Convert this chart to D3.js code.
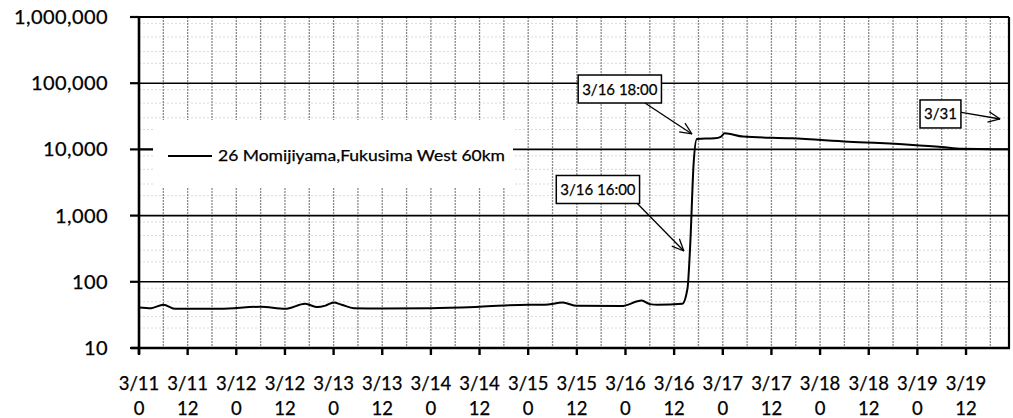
<!DOCTYPE html>
<html><head><meta charset="utf-8">
<script src="https://cdn.jsdelivr.net/npm/d3@7"></script>
<style>
body{margin:0;background:#fff}
svg{display:block}
text{font-family:Lato,"Open Sans",sans-serif;fill:#000;stroke:#000;stroke-width:0.25px}
</style>
</head><body>
<svg id="c" width="1013" height="418"></svg>
<script>
// ---- data (hours since 3/11 0:00, value) ----
const hours  = [0, 3, 6, 9, 20, 30, 36, 41, 44, 46, 48, 50, 53, 60, 72, 84, 96, 100, 104.5, 108, 119, 124, 126, 128, 134, 135.3, 136, 136.8, 137.6, 142, 143.5, 144.5, 149, 161, 175, 190, 198, 203, 214.6];
const values = [41, 40, 45, 39, 39, 42, 39, 46.5, 41.5, 43.7, 48.5, 45, 40, 39.5, 40, 42, 45, 45, 48.5, 43.3, 43, 52, 46, 45, 46.5, 80, 400, 6000, 14400, 14700, 15500, 17500, 15600, 14700, 13100, 11800, 10900, 10200, 10050];

const yTickValues = [10, 100, 1000, 10000, 100000, 1000000];
const yTickLabels = ["10", "100", "1,000", "10,000", "100,000", "1,000,000"];
const yMinorFactors = [2, 3, 5, 8];

const xTickHours = [0, 12, 24, 36, 48, 60, 72, 84, 96, 108, 120, 132, 144, 156, 168, 180, 192, 204];
const xTickDates = ["3/11","3/11","3/12","3/12","3/13","3/13","3/14","3/14","3/15","3/15","3/16","3/16","3/17","3/17","3/18","3/18","3/19","3/19"];
const xTickHourLabels = ["0","12","0","12","0","12","0","12","0","12","0","12","0","12","0","12","0","12"];
const xGridHours = d3.range(6, 214, 6);

const seriesName = "26 Momijiyama,Fukusima West 60km";

const annotationLabels = ["3/16 18:00", "3/16 16:00", "3/31"];
const annotationBoxAt  = [[118.6, 81700], [113.2, 2480], [197.7, 34300]];
const annotationFrom   = [[124.8, 50100], [122.8, 1550], [202.5, 36700]];
const annotationTo     = [[136.4, 17100], [134.4, 292], [212.4, 28800]];

// ---- layout ----
const L = 139, R = 1009, T = 17, B = 348;
const svg = d3.select("#c");
const x = d3.scaleLinear().domain([0, 214.6]).range([L, R]);
const y = d3.scaleLog().domain([10, 1e6]).range([B, T]);

// minor horizontal grid
const minor = [];
yTickValues.slice(0, -1).forEach(d => yMinorFactors.forEach(f => minor.push(d * f)));
svg.append("g").selectAll("line").data(minor).join("line")
  .attr("x1", L).attr("x2", R).attr("y1", d => y(d)).attr("y2", d => y(d))
  .attr("stroke", "#dadada").attr("stroke-width", 1).attr("stroke-dasharray", "2,2");

// vertical grid
svg.append("g").selectAll("line").data(xGridHours).join("line")
  .attr("x1", d => x(d)).attr("x2", d => x(d)).attr("y1", T).attr("y2", B)
  .attr("stroke", "#8a8a8a").attr("stroke-width", 1.3).attr("stroke-dasharray", "2,1");

// major horizontal grid
svg.append("g").selectAll("line").data(yTickValues.slice(1, -1)).join("line")
  .attr("x1", L).attr("x2", R).attr("y1", d => y(d)).attr("y2", d => y(d))
  .attr("stroke", "#000").attr("stroke-width", 1.6);

// legend
svg.append("rect").attr("x", 153).attr("y", 120).attr("width", 360).attr("height", 68).attr("fill", "#fff");
svg.append("line").attr("x1", 168).attr("x2", 212).attr("y1", 156).attr("y2", 156)
  .attr("stroke", "#000").attr("stroke-width", 1.8);
svg.append("text").attr("x", 218).attr("y", 161).attr("font-size", 15.5)
  .attr("textLength", 287).attr("lengthAdjust", "spacingAndGlyphs").text(seriesName);

// data line
const pts = hours.map((h, i) => [h, values[i]]);
svg.append("path").datum(pts)
  .attr("d", d3.line().x(d => x(d[0])).y(d => y(d[1])).curve(d3.curveMonotoneX))
  .attr("fill", "none").attr("stroke", "#000").attr("stroke-width", 2);

// frame
svg.append("line").attr("x1", L).attr("x2", R).attr("y1", T).attr("y2", T).attr("stroke", "#000").attr("stroke-width", 2.2);
svg.append("line").attr("x1", R).attr("x2", R).attr("y1", T).attr("y2", B).attr("stroke", "#000").attr("stroke-width", 2.2);
svg.append("line").attr("x1", L - 8).attr("x2", R + 1).attr("y1", B).attr("y2", B).attr("stroke", "#000").attr("stroke-width", 2.6);
svg.append("line").attr("x1", L).attr("x2", L).attr("y1", T - 1).attr("y2", B + 6).attr("stroke", "#000").attr("stroke-width", 2.6);

// y ticks + labels
const yg = svg.append("g");
yg.selectAll("line").data(yTickValues).join("line")
  .attr("x1", L - 9).attr("x2", L).attr("y1", d => y(d)).attr("y2", d => y(d))
  .attr("stroke", "#000").attr("stroke-width", 2.2);
yg.selectAll("line.r").data([10000]).join("line").attr("class", "r")
  .attr("x1", L).attr("x2", 153).attr("y1", d => y(d)).attr("y2", d => y(d))
  .attr("stroke", "#000").attr("stroke-width", 2);
yg.selectAll("text").data(yTickValues).join("text")
  .attr("x", 108).attr("y", d => y(d) + 7).attr("text-anchor", "end")
  .attr("font-size", 20).attr("letter-spacing", "0.4px")
  .text((d, i) => yTickLabels[i]);

// x ticks + labels
const xg = svg.append("g");
xg.selectAll("line").data(xTickHours).join("line")
  .attr("x1", d => x(d)).attr("x2", d => x(d)).attr("y1", B).attr("y2", B + 7)
  .attr("stroke", "#000").attr("stroke-width", 2.4);
xg.selectAll("text.d").data(xTickHours).join("text").attr("class", "d")
  .attr("x", d => x(d)).attr("y", 390).attr("text-anchor", "middle").attr("font-size", 18.5)
  .text((d, i) => xTickDates[i]);
xg.selectAll("text.h").data(xTickHours).join("text").attr("class", "h")
  .attr("x", d => x(d)).attr("y", 415).attr("text-anchor", "middle").attr("font-size", 18.5)
  .text((d, i) => xTickHourLabels[i]);

// annotations
function arrow(g, x1, y1, x2, y2) {
  g.append("line").attr("x1", x1).attr("y1", y1).attr("x2", x2).attr("y2", y2)
    .attr("stroke", "#000").attr("stroke-width", 1.3);
  const a = Math.atan2(y2 - y1, x2 - x1), len = 13, sp = 0.42;
  [a + Math.PI - sp, a + Math.PI + sp].forEach(b => {
    g.append("line").attr("x1", x2).attr("y1", y2)
      .attr("x2", x2 + len * Math.cos(b)).attr("y2", y2 + len * Math.sin(b))
      .attr("stroke", "#000").attr("stroke-width", 1.3);
  });
}
const ag = svg.append("g");
annotationLabels.forEach((lab, i) => {
  arrow(ag, x(annotationFrom[i][0]), y(annotationFrom[i][1]), x(annotationTo[i][0]), y(annotationTo[i][1]));
  const cx = x(annotationBoxAt[i][0]), cy = y(annotationBoxAt[i][1]);
  const g = ag.append("g");
  const rect = g.append("rect").attr("fill", "#fff").attr("stroke", "#000").attr("stroke-width", 1.5);
  const t = g.append("text").attr("x", cx).attr("y", cy + 5.5).attr("text-anchor", "middle").attr("font-size", 15).text(lab);
  const w = t.node().getComputedTextLength() + 8;
  rect.attr("x", cx - w / 2).attr("y", cy - 14).attr("width", w).attr("height", 28);
});
</script>
</body></html>
